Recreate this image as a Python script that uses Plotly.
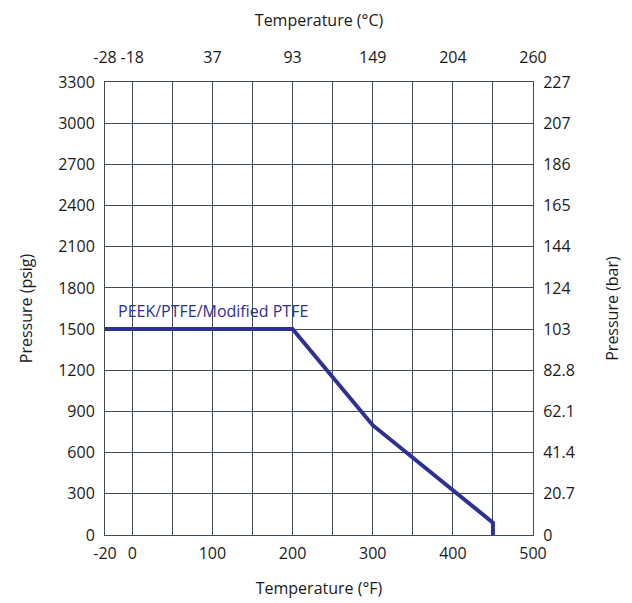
import plotly.graph_objects as go

# ---- data ----
temp_f = [-20, 200, 300, 450, 450]          # °F
pressure_psig = [1500, 1500, 800, 90, 0]     # psig
series_name = "PEEK/PTFE/Modified PTFE"

x_tick_f = [-20, 0, 100, 200, 300, 400, 500]
x_tick_labels = ["-20", "0", "100", "200", "300", "400", "500"]
x_minor_f = [50, 150, 250, 350, 450]
c_tick_labels = ["-28", "-18", "37", "93", "149", "204", "260"]

y_ticks_psig = [0, 300, 600, 900, 1200, 1500, 1800, 2100, 2400, 2700, 3000, 3300]
y_tick_bar = ["0", "20.7", "41.4", "62.1", "82.8", "103", "124", "144", "165", "186", "207", "227"]

# The chart's temperature axis is drawn with a widened first segment (-20 .. 0 °F)
def f_to_axis(f):
    return f if f >= 0 else f * 34.0 / 20.0

x_axis_ticks = [f_to_axis(v) for v in x_tick_f]
x_axis_minor = [f_to_axis(v) for v in x_minor_f]
x_line = [f_to_axis(v) for v in temp_f]
x_range = [f_to_axis(x_tick_f[0]), f_to_axis(x_tick_f[-1])]
y_range = [y_ticks_psig[0], y_ticks_psig[-1]]

BLUE = "#2e3192"
GRID = "#3f4b55"
TXT = "#1a1a1a"
FONT = "Open Sans"

fig = go.Figure()
fig.add_trace(go.Scatter(x=x_line, y=pressure_psig, mode="lines",
                         line=dict(color=BLUE, width=4), name=series_name,
                         showlegend=False, cliponaxis=False))
# invisible trace to activate the secondary axes
fig.add_trace(go.Scatter(x=[x_range[0]], y=[y_range[0]], xaxis="x2", yaxis="y2",
                         mode="markers", marker=dict(opacity=0), showlegend=False,
                         hoverinfo="skip"))

axis_common = dict(showline=True, linecolor=GRID, linewidth=1, gridcolor=GRID,
                   gridwidth=1, zeroline=False, ticks="", tickfont=dict(size=16, color=TXT, family=FONT),
                   title_font=dict(size=16, color=TXT, family=FONT))

fig.update_layout(
    width=632, height=603,
    margin=dict(l=97, r=107, t=74, b=76),
    paper_bgcolor="white", plot_bgcolor="white",
    font=dict(family=FONT, size=16, color=TXT),
    xaxis=dict(range=x_range, tickmode="array", tickvals=x_axis_ticks, ticktext=x_tick_labels,
               showgrid=True, mirror=True, ticklabelstandoff=4,
               minor=dict(tickvals=x_axis_minor, showgrid=True, gridcolor=GRID, gridwidth=1, ticks=""),
               title=dict(text="Temperature (°F)", standoff=19), **axis_common),
    xaxis2=dict(range=x_range, overlaying="x", side="top", tickmode="array",
                tickvals=x_axis_ticks, ticktext=c_tick_labels, showgrid=False,
                ticklabelstandoff=12,
                title=dict(text="Temperature (°C)", standoff=14), **axis_common),
    yaxis=dict(range=y_range, tickmode="array", tickvals=y_ticks_psig,
               ticktext=[str(v) for v in y_ticks_psig], showgrid=True, mirror=True,
               ticklabelstandoff=6,
               title=dict(text="Pressure (psig)", standoff=21), **axis_common),
    yaxis2=dict(range=y_range, overlaying="y", side="right", tickmode="array",
                tickvals=y_ticks_psig, ticktext=y_tick_bar, showgrid=False,
                ticklabelstandoff=6,
                title=dict(text="Pressure (bar)", standoff=32), **axis_common),
    annotations=[dict(text=series_name, xref="paper", yref="y", x=0.026, y=pressure_psig[0],
                      xanchor="left", yanchor="bottom", yshift=5, showarrow=False,
                      font=dict(size=16, color=BLUE, family=FONT))],
)

fig.write_html(
    "out.html",
    config={"displayModeBar": False},
    post_script="document.documentElement.style.overflow='hidden';"
                "document.body.style.overflow='hidden';",
)
